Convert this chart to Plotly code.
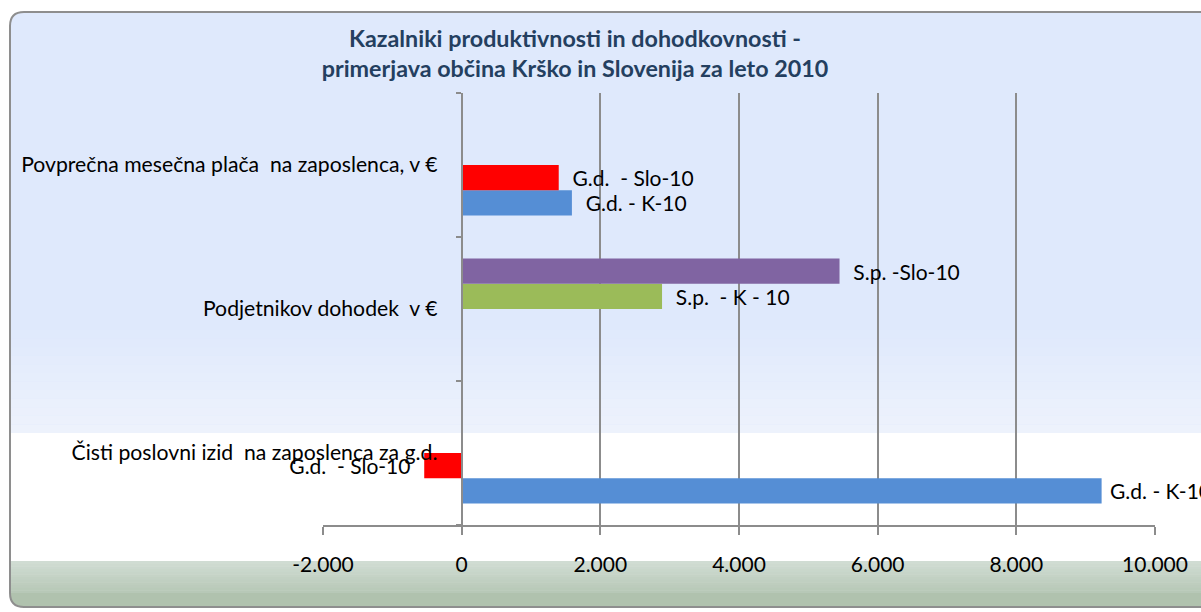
import plotly.graph_objects as go

# ---------------- data ----------------
categories = [
    "Čisti poslovni izid  na zaposlenca za g.d.",
    "Podjetnikov dohodek  v €",
    "Povprečna mesečna plača  na zaposlenca, v €",
]  # bottom -> top
series_names = ["G.d. - K-10", "G.d.  - Slo-10", "S.p.  - K - 10", "S.p. -Slo-10"]
gd_k10 = [9230, None, 1590]
gd_slo10 = [-540, None, 1400]
sp_k10 = [None, 2890, None]
sp_slo10 = [None, 5450, None]
series_values = [gd_k10, gd_slo10, sp_k10, sp_slo10]
series_colors = ["#558ED5", "#FF0000", "#9BBB59", "#8064A2"]

tick_vals = [-2000, 0, 2000, 4000, 6000, 8000, 10000]
tick_labels = ["-2.000", "0", "2.000", "4.000", "6.000", "8.000", "10.000"]
title_text = ("Kazalniki produktivnosti in dohodkovnosti -<br>"
              "primerjava občina Krško in Slovenija za leto 2010")

# ---------------- layout geometry (page pixels) ----------------
W, H = 1201, 612
PL, PR, PT, PB = 323, 1155, 93, 525
FONT = "Lato"
GRID = "#8C8C8C"
NB = "\u00a0"


def fx(px):  # page pixel -> paper fraction
    return (px - PL) / (PR - PL)


def fy(py):
    return (PB - py) / (PB - PT)


def keep_spaces(s):
    return s.replace("  ", " " + NB)


xmin, xmax = tick_vals[0], tick_vals[-1]

fig = go.Figure()
for name, vals, col in zip(series_names, series_values, series_colors):
    texts = []
    for v in vals:
        if v is None:
            texts.append("")
        elif v >= 0:
            pad = NB * (1 if v > 0.75 * xmax else 2)
            texts.append(pad + keep_spaces(name))
        else:
            texts.append(keep_spaces(name) + NB * 2)
    fig.add_trace(go.Bar(
        y=categories, x=vals, orientation="h", name=name,
        marker=dict(color=col, line=dict(width=0)),
        text=texts, textposition="outside", cliponaxis=False,
        constraintext="none",
        textfont=dict(family=FONT, size=21, color="#000000"),
        hoverinfo="x+name",
    ))

# ---------------- background shapes ----------------
shapes = []
XR = 1260  # beyond right edge
R = 14
top_path = (f"M {fx(10)},{fy(433)} L {fx(10)},{fy(12+R)} "
            f"Q {fx(10)},{fy(12)} {fx(10+R)},{fy(12)} "
            f"L {fx(XR)},{fy(12)} L {fx(XR)},{fy(433)} Z")
shapes.append(dict(type="path", xref="paper", yref="paper", path=top_path,
                   fillcolor="rgb(223,233,252)", line=dict(width=0), layer="below"))
c0 = (223, 233, 252)
c1 = (237, 242, 252)
n = 12
y_a, y_b = 330, 433
for i in range(n):
    t = (i + 1) / n
    col = tuple(round(c0[k] + (c1[k] - c0[k]) * t) for k in range(3))
    ya = y_a + (y_b - y_a) * i / n
    yb = y_a + (y_b - y_a) * (i + 1) / n
    shapes.append(dict(type="rect", xref="paper", yref="paper",
                       x0=fx(10), x1=fx(XR), y0=fy(ya), y1=fy(yb),
                       fillcolor="rgb(%d,%d,%d)" % col, line=dict(width=0), layer="below"))
g0 = (209, 221, 212)
g1 = (170, 189, 168)
yg0, yg1 = 561, 607
ystop = yg1 - R
for i in range(n):
    ya = yg0 + (ystop - yg0) * i / n
    yb = yg0 + (ystop - yg0) * (i + 1) / n
    t = ((ya + yb) / 2 - yg0) / (yg1 - yg0)
    col = tuple(round(g0[k] + (g1[k] - g0[k]) * t) for k in range(3))
    shapes.append(dict(type="rect", xref="paper", yref="paper",
                       x0=fx(10), x1=fx(XR), y0=fy(ya), y1=fy(yb + 0.5),
                       fillcolor="rgb(%d,%d,%d)" % col, line=dict(width=0), layer="below"))
bot_path = (f"M {fx(10)},{fy(ystop)} L {fx(10)},{fy(yg1-R)} "
            f"Q {fx(10)},{fy(yg1)} {fx(10+R)},{fy(yg1)} "
            f"L {fx(XR)},{fy(yg1)} L {fx(XR)},{fy(ystop)} Z")
shapes.append(dict(type="path", xref="paper", yref="paper", path=bot_path,
                   fillcolor="rgb(176,194,174)", line=dict(width=0), layer="below"))
border = (f"M {fx(XR)},{fy(12)} L {fx(10+R)},{fy(12)} "
          f"Q {fx(10)},{fy(12)} {fx(10)},{fy(12+R)} "
          f"L {fx(10)},{fy(607-R)} Q {fx(10)},{fy(607)} {fx(10+R)},{fy(607)} "
          f"L {fx(XR)},{fy(607)}")
shapes.append(dict(type="path", xref="paper", yref="paper", path=border,
                   line=dict(color="#8E8E8E", width=2), layer="below"))

fig.update_layout(
    width=W, height=H, autosize=False,
    margin=dict(l=PL, r=W - PR, t=PT, b=H - PB, pad=0),
    paper_bgcolor="white", plot_bgcolor="rgba(0,0,0,0)",
    barmode="group", bargap=0.3, bargroupgap=0,
    showlegend=False,
    shapes=shapes,
    title=dict(text=title_text, x=575 / W, xanchor="center", xref="container",
               y=1 - 47 / H, yanchor="middle", yref="container",
               font=dict(family=FONT, size=23.3, color="#243F60", weight="bold")),
    xaxis=dict(range=[xmin, xmax], tickvals=tick_vals, ticktext=tick_labels,
               showgrid=True, gridcolor=GRID, gridwidth=2,
               zeroline=False, showline=True, linecolor=GRID, linewidth=2,
               ticks="outside", ticklen=8, tickcolor=GRID, tickwidth=2,
               ticklabelstandoff=12,
               tickfont=dict(family=FONT, size=21, color="#000000"),
               anchor="y", fixedrange=True),
    yaxis=dict(type="category", categoryorder="array", categoryarray=categories,
               ticktext=[keep_spaces(c) for c in categories], tickvals=categories,
               range=[-0.5, len(categories) - 0.5],
               anchor="free", position=(0 - xmin) / (xmax - xmin),
               showgrid=False, zeroline=False,
               showline=True, linecolor=GRID, linewidth=2,
               ticks="outside", ticklen=5, tickcolor=GRID, tickwidth=2,
               tickson="boundaries", ticklabelstandoff=19,
               tickfont=dict(family=FONT, size=21.2, color="#000000"),
               fixedrange=True),
    yaxis2=dict(overlaying="y", anchor="x", side="left", range=[0, 1],
                showline=True, mirror=True, linecolor=GRID, linewidth=2,
                showticklabels=False, ticks="", showgrid=False, zeroline=False,
                fixedrange=True),
)

fig.write_html(
    "out.html",
    config={"displayModeBar": False},
    post_script="document.body.style.margin='0';document.body.style.overflow='hidden';",
)
